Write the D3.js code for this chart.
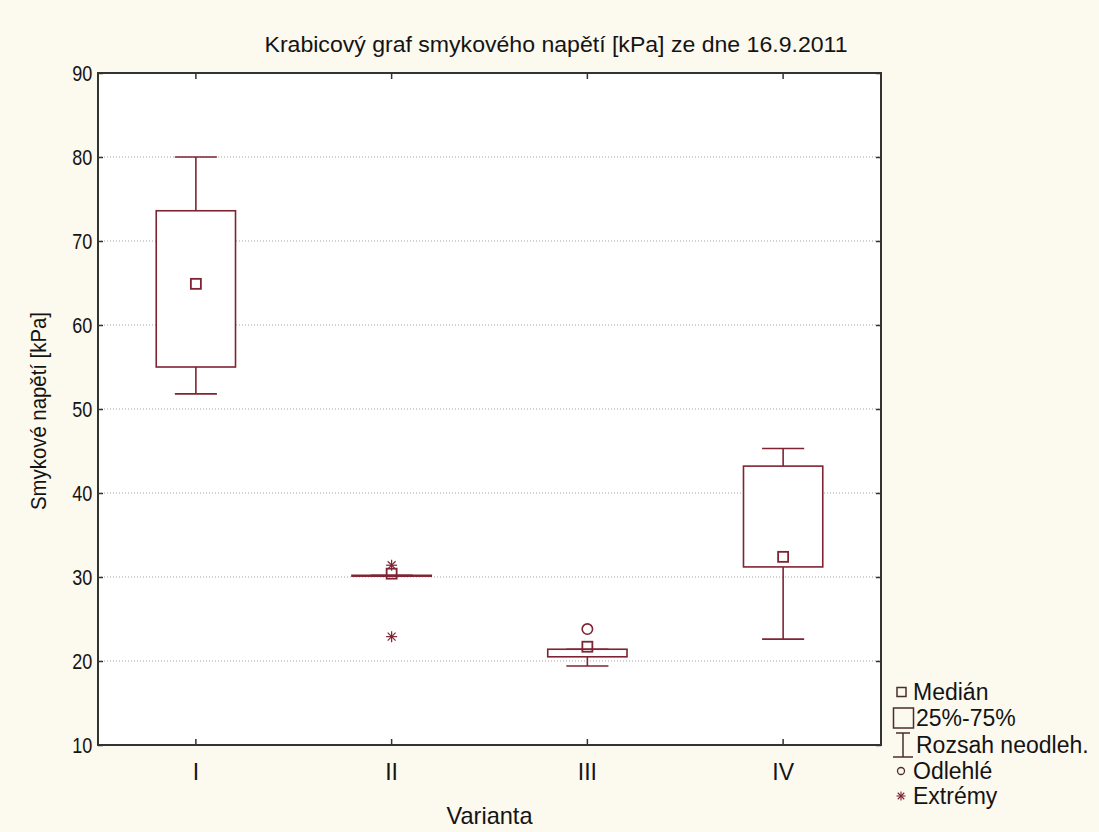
<!DOCTYPE html>
<html lang="cs">
<head>
<meta charset="utf-8">
<title>Krabicový graf smykového napětí</title>
<script src="https://cdn.jsdelivr.net/npm/d3@7"></script>
<style>
  html, body { margin: 0; padding: 0; background: #fcf9ef; }
  svg { display: block; }
  text { font-family: "Liberation Sans", Arial, sans-serif; fill: #141414; }
</style>
</head>
<body>
<svg id="chart" width="1099" height="832"></svg>
<script>
// Varianty (kategorie na ose X)
const categories = ["I", "II", "III", "IV"];

// Statistiky krabic [kPa]
const medians     = [64.9, 30.4, 21.7, 32.4];
const q1          = [55.0, 30.1, 20.5, 31.2];
const q3          = [73.6, 30.2, 21.4, 43.2];
const whiskerLow  = [51.8, 30.1, 19.4, 22.6];
const whiskerHigh = [80.0, 30.2, 21.4, 45.3];

// Odlehlé hodnoty a extrémy podle variant
const outliers = [[], [], [23.8], []];
const extremes = [[], [31.4, 22.9], [], []];

// Popisky os
const yTickValues = [10, 20, 30, 40, 50, 60, 70, 80, 90];
const titleText  = "Krabicový graf smykového napětí [kPa] ze dne 16.9.2011";
const xTitleText = "Varianta";
const yTitleText = "Smykové napětí [kPa]";

// Legenda
const legendLabels = ["Medián", "25%-75%", "Rozsah neodleh.", "Odlehlé", "Extrémy"];

const boxColor = "#7e2432";
const frameColor = "#333333";
const legendColor = "#4a2e2e";

const svg = d3.select("#chart");
const plot = { left: 98, right: 881, top: 73, bottom: 745 };

const x = d3.scaleBand().domain(categories).range([plot.left, plot.right]).padding(0);
const y = d3.scaleLinear().domain([10, 90]).range([plot.bottom, plot.top]);

// Plocha grafu
svg.append("rect")
  .attr("x", plot.left).attr("y", plot.top)
  .attr("width", plot.right - plot.left).attr("height", plot.bottom - plot.top)
  .attr("fill", "#ffffff");

// Tečkovaná vodorovná mřížka
svg.append("g").selectAll("line")
  .data(yTickValues.filter(v => v > 10 && v < 90))
  .join("line")
  .attr("x1", plot.left).attr("x2", plot.right)
  .attr("y1", d => y(d)).attr("y2", d => y(d))
  .attr("stroke", "#a3a3a3").attr("stroke-width", 1)
  .attr("stroke-dasharray", "1,2");

// Osy se značkami směřujícími dovnitř
const axisStyle = g => {
  g.select(".domain").remove();
  g.selectAll(".tick line").attr("stroke", frameColor).attr("stroke-width", 1.5);
  g.selectAll(".tick text").attr("fill", "#141414");
};

// Hodnoty osy Y úzkým, vyšším písmem
svg.append("g")
  .attr("transform", `translate(${plot.left},0)`)
  .call(d3.axisLeft(y).tickValues(yTickValues).tickSizeInner(-5).tickSizeOuter(0).tickPadding(7))
  .call(axisStyle)
  .selectAll("text")
  .attr("transform", "scale(0.82,1)")
  .style("font-size", "22px").style("font-family", "Liberation Sans, Arial, sans-serif");

svg.append("g")
  .attr("transform", `translate(${plot.right},0)`)
  .call(d3.axisRight(y).tickValues(yTickValues).tickSizeInner(-5).tickSizeOuter(0).tickFormat(""))
  .call(axisStyle);

svg.append("g")
  .attr("transform", `translate(0,${plot.bottom})`)
  .call(d3.axisBottom(x).tickSizeInner(-6).tickSizeOuter(0).tickPadding(19))
  .call(axisStyle)
  .selectAll("text")
  .style("font-size", "23px").style("font-family", "Liberation Sans, Arial, sans-serif");

svg.append("g")
  .attr("transform", `translate(0,${plot.top})`)
  .call(d3.axisTop(x).tickSizeInner(-6).tickSizeOuter(0).tickFormat(""))
  .call(axisStyle);

// Rámeček grafu
svg.append("rect")
  .attr("x", plot.left).attr("y", plot.top)
  .attr("width", plot.right - plot.left).attr("height", plot.bottom - plot.top)
  .attr("fill", "none").attr("stroke", frameColor).attr("stroke-width", 2);

// Krabice
const bw = x.bandwidth();
const boxW = bw * 0.405;
const capW = bw * 0.215;
const idx = d3.range(categories.length);
const cx = i => x(categories[i]) + bw / 2;

const boxes = svg.append("g").attr("stroke", boxColor).attr("fill", "none").attr("stroke-width", 1.6);

// Vousy (rozsah neodlehlých hodnot)
boxes.selectAll("line.whisker-up").data(idx).join("line")
  .attr("class", "whisker-up")
  .attr("x1", cx).attr("x2", cx)
  .attr("y1", i => y(q3[i])).attr("y2", i => y(whiskerHigh[i]));
boxes.selectAll("line.whisker-down").data(idx).join("line")
  .attr("class", "whisker-down")
  .attr("x1", cx).attr("x2", cx)
  .attr("y1", i => y(q1[i])).attr("y2", i => y(whiskerLow[i]));
boxes.selectAll("line.cap-high").data(idx).join("line")
  .attr("class", "cap-high")
  .attr("x1", i => cx(i) - capW / 2).attr("x2", i => cx(i) + capW / 2)
  .attr("y1", i => y(whiskerHigh[i])).attr("y2", i => y(whiskerHigh[i]));
boxes.selectAll("line.cap-low").data(idx).join("line")
  .attr("class", "cap-low")
  .attr("x1", i => cx(i) - capW / 2).attr("x2", i => cx(i) + capW / 2)
  .attr("y1", i => y(whiskerLow[i])).attr("y2", i => y(whiskerLow[i]));

// Kvartilové krabice 25%-75%
boxes.selectAll("rect.box").data(idx).join("rect")
  .attr("class", "box")
  .attr("x", i => cx(i) - boxW / 2)
  .attr("width", boxW)
  .attr("y", i => y(q3[i]))
  .attr("height", i => Math.max(0.01, y(q1[i]) - y(q3[i])))
  .attr("fill", "#ffffff");

// Medián
const ms = 10;
boxes.selectAll("rect.median").data(idx).join("rect")
  .attr("class", "median")
  .attr("x", i => cx(i) - ms / 2)
  .attr("y", i => y(medians[i]) - ms / 2)
  .attr("width", ms).attr("height", ms)
  .attr("fill", "none").attr("stroke-width", 1.8);

// Odlehlé hodnoty
const outlierPts = idx.flatMap(i => outliers[i].map(v => ({ i, v })));
boxes.selectAll("circle.outlier").data(outlierPts).join("circle")
  .attr("class", "outlier")
  .attr("cx", d => cx(d.i)).attr("cy", d => y(d.v)).attr("r", 5.2);

// Extrémy (hvězdičky)
const star = (g, r) => {
  const a = r * 0.72;
  g.append("line").attr("x1", -r).attr("x2", r).attr("y1", 0).attr("y2", 0);
  g.append("line").attr("x1", 0).attr("x2", 0).attr("y1", -r).attr("y2", r);
  g.append("line").attr("x1", -a).attr("x2", a).attr("y1", -a).attr("y2", a);
  g.append("line").attr("x1", -a).attr("x2", a).attr("y1", a).attr("y2", -a);
};
const extremePts = idx.flatMap(i => extremes[i].map(v => ({ i, v })));
boxes.selectAll("g.extreme").data(extremePts).join("g")
  .attr("class", "extreme")
  .attr("transform", d => `translate(${cx(d.i)},${y(d.v)})`)
  .attr("stroke-width", 1.2)
  .each(function () { star(d3.select(this), 5.5); });

// Nadpis a popisky os
svg.append("text")
  .attr("x", 556).attr("y", 52)
  .attr("text-anchor", "middle")
  .attr("textLength", 583).attr("lengthAdjust", "spacingAndGlyphs")
  .style("font-size", "22px")
  .text(titleText);

svg.append("text")
  .attr("x", (plot.left + plot.right) / 2).attr("y", 824)
  .attr("text-anchor", "middle")
  .attr("textLength", 86).attr("lengthAdjust", "spacingAndGlyphs")
  .style("font-size", "24px")
  .text(xTitleText);

svg.append("text")
  .attr("transform", `translate(46,${(plot.top + plot.bottom) / 2 + 2}) rotate(-90)`)
  .attr("text-anchor", "middle")
  .attr("textLength", 198).attr("lengthAdjust", "spacingAndGlyphs")
  .style("font-size", "22px")
  .text(yTitleText);

// Legenda
const lg = svg.append("g").attr("transform", "translate(893,0)");
const rows = [692, 718, 745, 771, 796];
const lc = legendColor;

lg.append("rect").attr("x", 4).attr("y", rows[0] - 4.5).attr("width", 9).attr("height", 9)
  .attr("fill", "none").attr("stroke", lc).attr("stroke-width", 1.5);
lg.append("rect").attr("x", 0.5).attr("y", rows[1] - 10).attr("width", 20).attr("height", 20)
  .attr("fill", "none").attr("stroke", lc).attr("stroke-width", 1.5);
lg.append("line").attr("x1", 10).attr("x2", 10).attr("y1", rows[2] - 12).attr("y2", rows[2] + 12)
  .attr("stroke", lc).attr("stroke-width", 1.5);
lg.append("line").attr("x1", 3).attr("x2", 17).attr("y1", rows[2] - 12).attr("y2", rows[2] - 12)
  .attr("stroke", lc).attr("stroke-width", 1.5);
lg.append("line").attr("x1", 0).attr("x2", 20).attr("y1", rows[2] + 12).attr("y2", rows[2] + 12)
  .attr("stroke", lc).attr("stroke-width", 1.5);
lg.append("circle").attr("cx", 8).attr("cy", rows[3]).attr("r", 3.5)
  .attr("fill", "none").attr("stroke", lc).attr("stroke-width", 1.3);
const ls = lg.append("g").attr("transform", `translate(8,${rows[4]})`)
  .attr("stroke", boxColor).attr("stroke-width", 1.1);
star(ls, 4.5);

lg.selectAll("text.legend").data(legendLabels).join("text")
  .attr("class", "legend")
  .attr("x", (d, i) => (i === 1 || i === 2) ? 23 : 20)
  .attr("y", (d, i) => rows[i])
  .attr("dy", "0.36em")
  .style("font-size", "23px")
  .text(d => d);
</script>
</body>
</html>
